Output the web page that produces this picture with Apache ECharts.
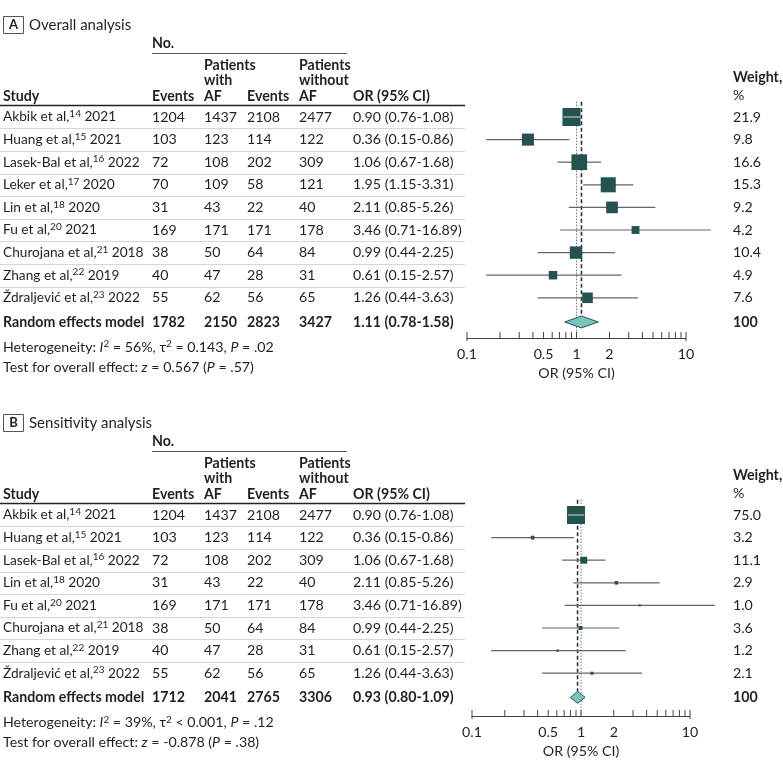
<!DOCTYPE html>
<html>
<head>
<meta charset="utf-8">
<script src="https://cdn.jsdelivr.net/npm/echarts@6/dist/echarts.min.js"></script>
<style>
  html, body { margin: 0; padding: 0; background: #fff; }
  #chart { width: 783px; height: 771px; }
</style>
</head>
<body>
<div id="chart"></div>
<script>
const FONT = 'Lato';
const INK = '#231f20';
const BOX = '#24524e';
const CI_LINE = '#666666';

// panel A - overall analysis
const studiesA = ['Akbik et al,', 'Huang et al,', 'Lasek-Bal et al,', 'Leker et al,', 'Lin et al,', 'Fu et al,', 'Churojana et al,', 'Zhang et al,', 'Ždraljević et al,'];
const refsA = [14, 15, 16, 17, 18, 20, 21, 22, 23];
const yearsA = [2021, 2021, 2022, 2020, 2020, 2021, 2018, 2019, 2022];
const eventsAfA = [1204, 103, 72, 70, 31, 169, 38, 40, 55];
const totalAfA = [1437, 123, 108, 109, 43, 171, 50, 47, 62];
const eventsNoAfA = [2108, 114, 202, 58, 22, 171, 64, 28, 56];
const totalNoAfA = [2477, 122, 309, 121, 40, 178, 84, 31, 65];
const orA = [0.90, 0.36, 1.06, 1.95, 2.11, 3.46, 0.99, 0.61, 1.26];
const lowerA = [0.76, 0.15, 0.67, 1.15, 0.85, 0.71, 0.44, 0.15, 0.44];
const upperA = [1.08, 0.86, 1.68, 3.31, 5.26, 16.89, 2.25, 2.57, 3.63];
const weightA = [21.9, 9.8, 16.6, 15.3, 9.2, 4.2, 10.4, 4.9, 7.6];
const pooledCountsA = [1782, 2150, 2823, 3427];
const pooledOrA = [1.11, 0.78, 1.58];

// panel B - sensitivity analysis
const studiesB = ['Akbik et al,', 'Huang et al,', 'Lasek-Bal et al,', 'Lin et al,', 'Fu et al,', 'Churojana et al,', 'Zhang et al,', 'Ždraljević et al,'];
const refsB = [14, 15, 16, 18, 20, 21, 22, 23];
const yearsB = [2021, 2021, 2022, 2020, 2021, 2018, 2019, 2022];
const eventsAfB = [1204, 103, 72, 31, 169, 38, 40, 55];
const totalAfB = [1437, 123, 108, 43, 171, 50, 47, 62];
const eventsNoAfB = [2108, 114, 202, 22, 171, 64, 28, 56];
const totalNoAfB = [2477, 122, 309, 40, 178, 84, 31, 65];
const orB = [0.90, 0.36, 1.06, 2.11, 3.46, 0.99, 0.61, 1.26];
const lowerB = [0.76, 0.15, 0.67, 0.85, 0.71, 0.44, 0.15, 0.44];
const upperB = [1.08, 0.86, 1.68, 5.26, 16.89, 2.25, 2.57, 3.63];
const weightB = [75.0, 3.2, 11.1, 2.9, 1.0, 3.6, 1.2, 2.1];
const pooledCountsB = [1712, 2041, 2765, 3306];
const pooledOrB = [0.93, 0.80, 1.09];

// x axis ticks
const tickValues = [0.1, 0.2, 0.3, 0.4, 0.5, 0.6, 0.7, 0.8, 0.9, 1, 2, 3, 4, 5, 6, 7, 8, 9, 10];
const tickLabels = [0.1, 0.5, 1, 2, 10];

const colX = [3, 152, 204, 247, 299, 353, 733];
const FS = 14.2;

function fmtOr(o, l, h) {
  return o.toFixed(2) + ' (' + l.toFixed(2) + '-' + h.toFixed(2) + ')';
}

function txt(x, y, text, extra) {
  return {
    type: 'text', x: x, y: y,
    style: Object.assign({
      text: text, fill: INK, fontFamily: FONT, fontSize: FS,
      verticalAlign: 'middle', align: 'left'
    }, extra || {})
  };
}

const richBase = {
  n: { fontFamily: FONT, fontSize: FS, fill: INK, lineHeight: 16 },
  m: { fontFamily: FONT, fontSize: 13.7, fill: INK, lineHeight: 16 },
  i: { fontFamily: FONT, fontSize: FS, fill: INK, fontStyle: 'italic', lineHeight: 16 },
  s: { fontFamily: FONT, fontSize: 10, fill: INK, verticalAlign: 'top', lineHeight: 9 }
};

const panels = [
  {
    letter: 'A', title: 'Overall analysis', rowY0: 117, rowH: 22.6, axisY: 338,
    left: 467, width: 219, nameGap: 28,
    studies: studiesA, refs: refsA, years: yearsA,
    cols: [eventsAfA, totalAfA, eventsNoAfA, totalNoAfA],
    or: orA, lower: lowerA, upper: upperA, weight: weightA,
    pooledCounts: pooledCountsA, pooledOr: pooledOrA,
    het: '{n|Heterogeneity: }{i|I}{s|2}{n| = 56%, τ}{s|2}{n| = 0.143, }{i|P}{n| = .02}',
    test: '{n|Test for overall effect: }{i|z}{n| = 0.567 (}{i|P}{n| = .57)}'
  },
  {
    letter: 'B', title: 'Sensitivity analysis', rowY0: 515, rowH: 22.6, axisY: 716,
    left: 472, width: 218, nameGap: 28,
    studies: studiesB, refs: refsB, years: yearsB,
    cols: [eventsAfB, totalAfB, eventsNoAfB, totalNoAfB],
    or: orB, lower: lowerB, upper: upperB, weight: weightB,
    pooledCounts: pooledCountsB, pooledOr: pooledOrB,
    het: '{n|Heterogeneity: }{i|I}{s|2}{n| = 39%, τ}{s|2}{n| < 0.001, }{i|P}{n| = .12}',
    test: '{n|Test for overall effect: }{i|z}{n| = -0.878 (}{i|P}{n| = .38)}'
  }
];

const grid = [], xAxis = [], yAxis = [], series = [], graphic = [];

panels.forEach(function (p, gi) {
  const n = p.studies.length;
  const pooledRow = n - 1 + 1.07;
  const yMax = (p.axisY - p.rowY0) / p.rowH;
  const top = p.rowY0 - p.rowH / 2;

  grid.push({ left: p.left, top: top, width: p.width, height: p.axisY - top });
  xAxis.push({
    type: 'log', logBase: 10, min: 0.1, max: 10, gridIndex: gi,
    axisLine: { show: true, onZero: false, lineStyle: { color: '#444', width: 1 } },
    axisTick: { show: false }, axisLabel: { show: false }, splitLine: { show: false },
    name: 'OR (95% CI)', nameLocation: 'middle', nameGap: p.nameGap,
    nameTextStyle: { fontFamily: FONT, fontSize: FS, color: INK }
  });
  yAxis.push({ type: 'value', gridIndex: gi, inverse: true, min: -0.5, max: yMax, show: false });

  const base = { type: 'custom', coordinateSystem: 'cartesian2d', xAxisIndex: gi, yAxisIndex: gi, silent: true, animation: false, clip: false };

  // table rows + weights
  const rows = p.studies.map(function (_, i) { return [1, i]; });
  rows.push([1, pooledRow]);
  series.push(Object.assign({}, base, {
    data: rows,
    renderItem: function (params, api) {
      const i = params.dataIndex;
      const y = api.coord([1, api.value(1)])[1];
      const children = [];
      if (i === n) {
        const bold = { fontWeight: 'bold' };
        children.push(txt(colX[0], y, 'Random effects model', bold));
        p.pooledCounts.forEach(function (v, k) { children.push(txt(colX[k + 1], y, String(v), bold)); });
        children.push(txt(colX[5], y, fmtOr(p.pooledOr[0], p.pooledOr[1], p.pooledOr[2]), bold));
        children.push(txt(colX[6], y, '100', bold));
      } else {
        children.push(txt(colX[0], y, '{m|' + p.studies[i] + '}{s|' + p.refs[i] + '}{m| ' + p.years[i] + '}', { rich: richBase }));
        p.cols.forEach(function (arr, k) { children.push(txt(colX[k + 1], y, String(arr[i]))); });
        children.push(txt(colX[5], y, fmtOr(p.or[i], p.lower[i], p.upper[i])));
        children.push(txt(colX[6], y, p.weight[i].toFixed(1)));
        if (i < n - 1) {
          const ys = Math.round(api.coord([1, i + 0.5])[1]) + 0.5;
          children.push({ type: 'line', shape: { x1: 0, y1: ys, x2: 465, y2: ys }, style: { stroke: '#d6d6d6', lineWidth: 1 } });
        }
      }
      return { type: 'group', children: children };
    }
  }));

  // reference lines: no effect (dotted) and pooled estimate (dashed)
  series.push(Object.assign({}, base, {
    data: [[1, -0.68, yMax, 0], [p.pooledOr[0], -0.68, pooledRow, 1]],
    renderItem: function (params, api) {
      const a = api.coord([api.value(0), api.value(1)]);
      const b = api.coord([api.value(0), api.value(2)]);
      const dashed = api.value(3) === 1;
      return {
        type: 'line',
        shape: { x1: a[0], y1: a[1], x2: b[0], y2: dashed ? b[1] - 6 : b[1] },
        style: dashed
          ? { stroke: '#333', lineWidth: 1.6, lineDash: [4, 2.5] }
          : { stroke: '#777', lineWidth: 1, lineDash: [1.5, 1.5] }
      };
    }
  }));

  // study estimates
  const kSide = 18 / Math.sqrt(Math.max.apply(null, p.weight));
  series.push(Object.assign({}, base, {
    data: p.or.map(function (v, i) { return [v, i, p.lower[i], p.upper[i], p.weight[i]]; }),
    z: 3,
    renderItem: function (params, api) {
      const row = api.value(1);
      const c = api.coord([api.value(0), row]);
      const lo = api.coord([api.value(2), row]);
      const hi = api.coord([api.value(3), row]);
      const s = kSide * Math.sqrt(api.value(4));
      const children = [
        { type: 'line', shape: { x1: lo[0], y1: c[1], x2: hi[0], y2: c[1] }, style: { stroke: CI_LINE, lineWidth: 1.2 } },
        { type: 'rect', shape: { x: c[0] - s / 2, y: c[1] - s / 2, width: s, height: s }, style: { fill: BOX } }
      ];
      if (lo[0] > c[0] - s / 2 && hi[0] < c[0] + s / 2) {
        children.push({ type: 'line', shape: { x1: lo[0], y1: c[1], x2: hi[0], y2: c[1] }, style: { stroke: '#b9c9c7', lineWidth: 1.2 } });
      }
      return { type: 'group', children: children };
    }
  }));

  // pooled diamond
  series.push(Object.assign({}, base, {
    data: [[p.pooledOr[0], pooledRow, p.pooledOr[1], p.pooledOr[2]]],
    z: 4,
    renderItem: function (params, api) {
      const row = api.value(1);
      const c = api.coord([api.value(0), row]);
      const lo = api.coord([api.value(2), row]);
      const hi = api.coord([api.value(3), row]);
      return {
        type: 'polygon',
        shape: { points: [[lo[0], c[1]], [c[0], c[1] - 6], [hi[0], c[1]], [c[0], c[1] + 6]] },
        style: { fill: '#7cc3bf', stroke: '#2f5552', lineWidth: 1 }
      };
    }
  }));

  // axis ticks
  series.push(Object.assign({}, base, {
    data: tickValues.map(function (v) { return [v, yMax]; }),
    renderItem: function (params, api) {
      const pt = api.coord([api.value(0), api.value(1)]);
      const end = params.dataIndex === 0 || params.dataIndex === tickValues.length - 1;
      return { type: 'line', shape: { x1: pt[0], y1: pt[1] - 6, x2: pt[0], y2: end ? pt[1] + 3 : pt[1] }, style: { stroke: '#444', lineWidth: 1 } };
    }
  }));
  series.push(Object.assign({}, base, {
    data: tickLabels.map(function (v) { return [v, yMax]; }),
    renderItem: function (params, api) {
      const pt = api.coord([api.value(0), api.value(1)]);
      return txt(pt[0], pt[1] + 16, String(api.value(0)), { align: 'center' });
    }
  }));

  // header and footer text
  const r0 = p.rowY0;
  const bold = { fontWeight: 'bold' };
  graphic.push(
    { type: 'rect', shape: { x: 3.5, y: r0 - 100.5, width: 20, height: 17 }, style: { fill: 'none', stroke: '#555', lineWidth: 1 } },
    txt(13.5, r0 - 92, p.letter, { fontWeight: 'bold', align: 'center', fontSize: 13 }),
    txt(29, r0 - 92, p.title, { fontSize: 15 }),
    txt(colX[1], r0 - 74, 'No.', bold),
    { type: 'line', shape: { x1: colX[1], y1: r0 - 63.5, x2: 347, y2: r0 - 63.5 }, style: { stroke: '#555', lineWidth: 1 } },
    txt(colX[2], r0 - 52, 'Patients', bold),
    txt(colX[2], r0 - 37, 'with', bold),
    txt(colX[2], r0 - 21, 'AF', bold),
    txt(colX[4], r0 - 52, 'Patients', bold),
    txt(colX[4], r0 - 37, 'without', bold),
    txt(colX[4], r0 - 21, 'AF', bold),
    txt(colX[0], r0 - 21, 'Study', bold),
    txt(colX[1], r0 - 21, 'Events', bold),
    txt(colX[3], r0 - 21, 'Events', bold),
    txt(colX[5], r0 - 21, 'OR (95% CI)', bold),
    { type: 'line', shape: { x1: 0, y1: r0 - 11.5, x2: 465, y2: r0 - 11.5 }, style: { stroke: '#222', lineWidth: 1.5 } },
    txt(colX[6], r0 - 40, 'Weight,', bold),
    txt(colX[6], r0 - 22, '%'),
    txt(colX[0], r0 + pooledRow * p.rowH + 25, p.het, { rich: richBase }),
    txt(colX[0], r0 + pooledRow * p.rowH + 45, p.test, { rich: richBase })
  );
});

const chart = echarts.init(document.getElementById('chart'), null, { renderer: 'canvas' });
chart.setOption({
  backgroundColor: '#fff',
  animation: false,
  grid: grid,
  xAxis: xAxis,
  yAxis: yAxis,
  series: series,
  graphic: graphic
});
</script>
</body>
</html>
